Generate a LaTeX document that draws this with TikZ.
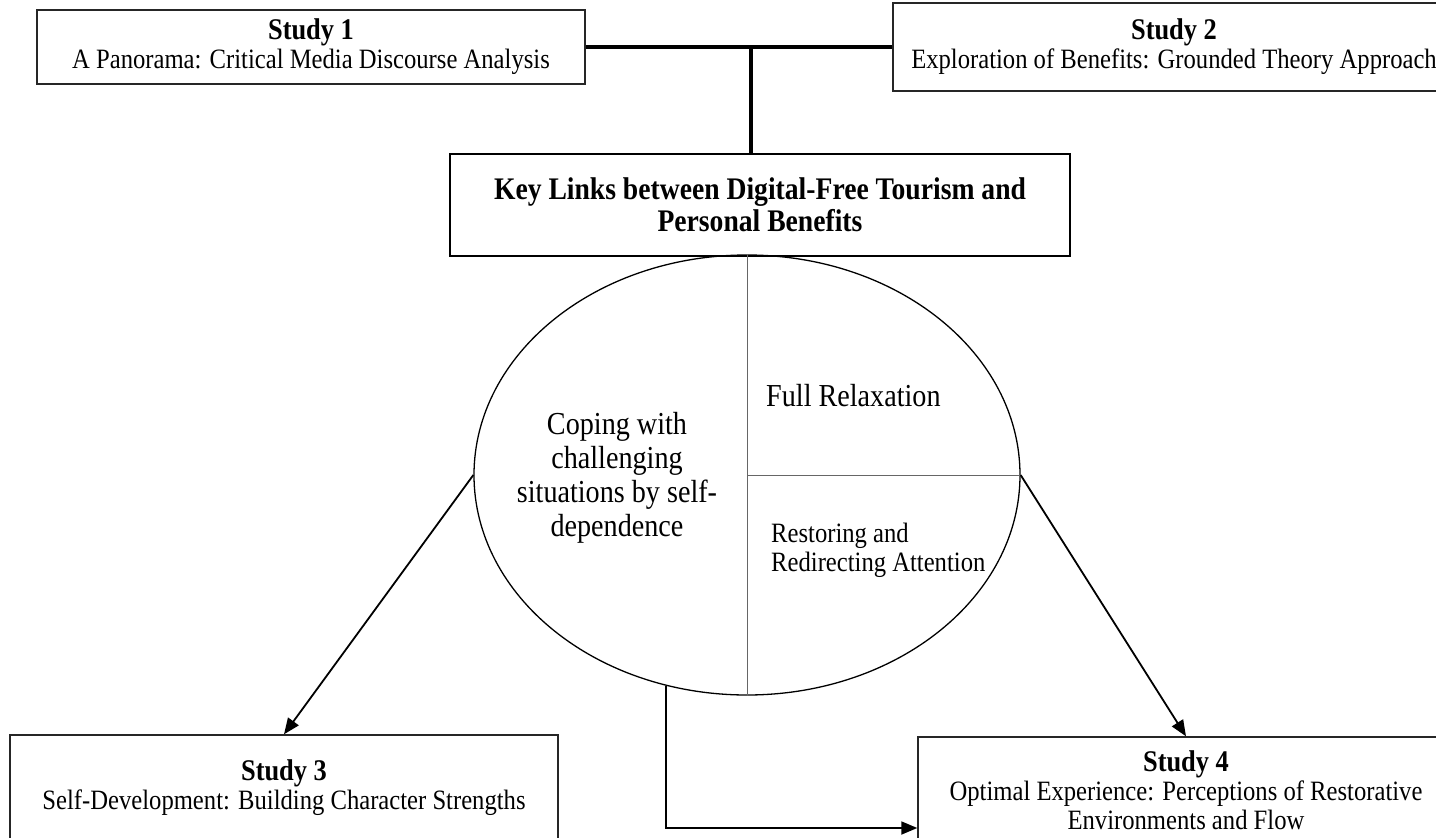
\documentclass[tikz,border=0pt]{standalone}
\usepackage{fontspec}
\setmainfont{Liberation Serif}[FakeStretch=0.88]
\usetikzlibrary{arrows.meta,shapes.geometric}
\newcommand\studyhead[1]{{\fontsize{30}{29}\selectfont\bfseries #1}}
\begin{document}
\begin{tikzpicture}[x=1pt,y=-1pt,
  studybox/.style={draw=black!85, line width=1.4pt, inner sep=0pt, align=center,
    font=\fontsize{28}{29}\selectfont},
  keybox/.style={draw=black, line width=1.4pt, inner sep=0pt, align=center,
    font=\fontsize{31.4}{32}\selectfont\bfseries},
  link/.style={line width=4pt},
  arr/.style={line width=1.8pt, -{Triangle[length=16pt,width=13pt]}},
  divider/.style={draw=black!60, line width=0.9pt},
  celltext/.style={inner sep=0pt, font=\fontsize{32}{34}\selectfont},
  smalltext/.style={inner sep=0pt, align=left, font=\fontsize{28}{29}\selectfont}]
\useasboundingbox (0,0) rectangle (1436,838);
\clip (0,0) rectangle (1436,838);

% study boxes
\node[studybox, minimum width=548pt, minimum height=74pt] (s1) at (311,47)
  {\studyhead{Study 1}\\A Panorama: Critical Media Discourse Analysis};
\node[studybox, minimum width=562pt, minimum height=88pt] (s2) at (1174,47)
  {\studyhead{Study 2}\\Exploration of Benefits: Grounded Theory Approach};
\node[studybox, minimum width=548pt, minimum height=106pt] (s3) at (284,788)
  {\studyhead{Study 3}\\Self-Development: Building Character Strengths};
\node[studybox, minimum width=536pt, minimum height=106pt] (s4) at (1186,790)
  {\studyhead{Study 4}\\Optimal Experience: Perceptions of Restorative\\Environments and Flow};

% central key box
\node[keybox, minimum width=620pt, minimum height=102pt] (key) at (760,205)
  {Key Links between Digital-Free Tourism and\\Personal Benefits};

% joining bar between study 1 and study 2
\coordinate (junc) at (751,47);
\draw[link] (s1.east) -- (s2.west);
\draw[link] (junc) -- (junc |- key.north);

% ellipse of benefits with its dividers
\node[ellipse, draw=black, line width=1.3pt, inner sep=0pt,
  minimum width=546pt, minimum height=440pt] (ell) at (747,475) {};
\draw[divider] (ell.north) -- (ell.south);
\draw[divider] (ell.center) -- (ell.east);

\node[celltext, anchor=west] (relax) at (766,396) {Full Relaxation};
\node[celltext, align=center] (coping) at (617,478)
  {Coping with\\challenging\\situations by self-\\dependence};
\node[smalltext, anchor=west] (restore) at (771,550)
  {Restoring and\\Redirecting Attention};

% arrows to the lower studies
\coordinate (elbstart) at (ell.249.4);
\draw[arr] (ell.west) -- (s3.north);
\draw[arr] (ell.east) -- (s4.north);
\draw[arr] (elbstart) |- ([yshift=-38pt]s4.west);
\end{tikzpicture}
\end{document}
